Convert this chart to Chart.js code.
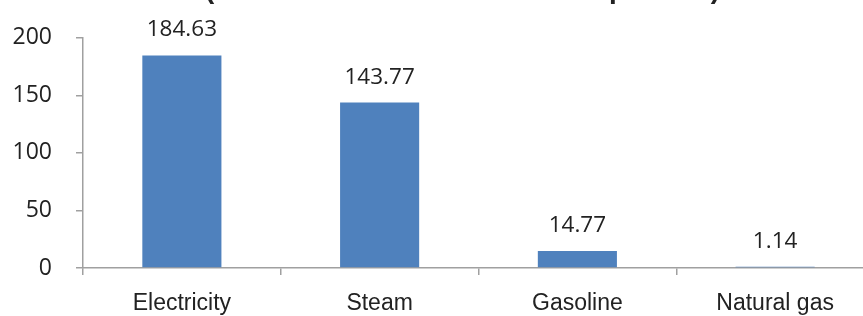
<!DOCTYPE html>
<html>
<head>
<meta charset="utf-8">
<script src="https://cdn.jsdelivr.net/npm/chart.js@4"></script>
<style>
  html, body { margin: 0; padding: 0; background: #fff; overflow: hidden; }
  #wrap { width: 874px; height: 316px; position: relative; }
</style>
</head>
<body>
<div id="wrap"><canvas id="c"></canvas></div>
<script>
const categories = ["Electricity", "Steam", "Gasoline", "Natural gas"];
const values = [184.63, 143.77, 14.77, 1.14];
const valueLabels = ["184.63", "143.77", "14.77", "1.14"];
const yTicks = [0, 50, 100, 150, 200];
const titleText = "(metric tonnes of CO2 emitted per unit)";

const axisColor = "#A0A0A0";
const textColor = "#222222";

const titlePlugin = {
  id: "cutTitle",
  afterDraw(chart) {
    const ctx = chart.ctx;
    ctx.save();
    ctx.font = "bold 100px 'Liberation Sans', Arial, sans-serif";
    const w = ctx.measureText(titleText).width;
    const size = 100 * 515 / w;
    ctx.font = "bold " + size + "px 'Liberation Sans', Arial, sans-serif";
    ctx.fillStyle = textColor;
    ctx.textAlign = "left";
    ctx.textBaseline = "alphabetic";
    ctx.fillText(titleText, 205, -2.5);
    ctx.restore();
  }
};

const valueLabelPlugin = {
  id: "valueLabels",
  afterDatasetsDraw(chart) {
    const ctx = chart.ctx;
    const meta = chart.getDatasetMeta(0);
    ctx.save();
    ctx.font = "22.5px 'Open Sans', sans-serif";
    ctx.fillStyle = textColor;
    ctx.textAlign = "center";
    ctx.textBaseline = "alphabetic";
    meta.data.forEach((bar, i) => {
      ctx.fillText(valueLabels[i], bar.x, bar.y - 19);
    });
    ctx.restore();
  }
};

new Chart(document.getElementById("c"), {
  type: "bar",
  data: {
    labels: categories,
    datasets: [{
      data: values,
      backgroundColor: "#4F81BD",
      borderWidth: 0,
      barPercentage: 0.4,
      categoryPercentage: 1.0
    }]
  },
  options: {
    responsive: true,
    maintainAspectRatio: false,
    animation: false,
    layout: { padding: { top: 35, right: 0, bottom: 0, left: 0 } },
    plugins: {
      legend: { display: false },
      tooltip: { enabled: false },
      title: { display: false }
    },
    scales: {
      x: {
        grid: {
          display: true,
          drawOnChartArea: false,
          drawTicks: true,
          tickLength: 7,
          color: axisColor,
          lineWidth: 1.5,
          offset: true
        },
        border: { display: true, color: axisColor, width: 1.5 },
        ticks: {
          color: textColor,
          font: { family: "'Liberation Sans', Arial, sans-serif", size: 23 },
          padding: 15,
          maxRotation: 0,
          autoSkip: false
        },
        afterFit(scale) { scale.height = 48; }
      },
      y: {
        min: 0,
        max: 200,
        grid: {
          display: true,
          drawOnChartArea: false,
          drawTicks: true,
          tickLength: 7,
          color: axisColor,
          lineWidth: 1.5
        },
        border: { display: true, color: axisColor, width: 1.5 },
        afterBuildTicks(scale) { scale.ticks = yTicks.map(v => ({ value: v })); },
        ticks: {
          color: textColor,
          font: { family: "'Open Sans', sans-serif", size: 23 },
          padding: 24,
          callback: (v) => String(v)
        },
        afterFit(scale) { scale.width = 83; }
      }
    }
  },
  plugins: [titlePlugin, valueLabelPlugin]
});
</script>
</body>
</html>
